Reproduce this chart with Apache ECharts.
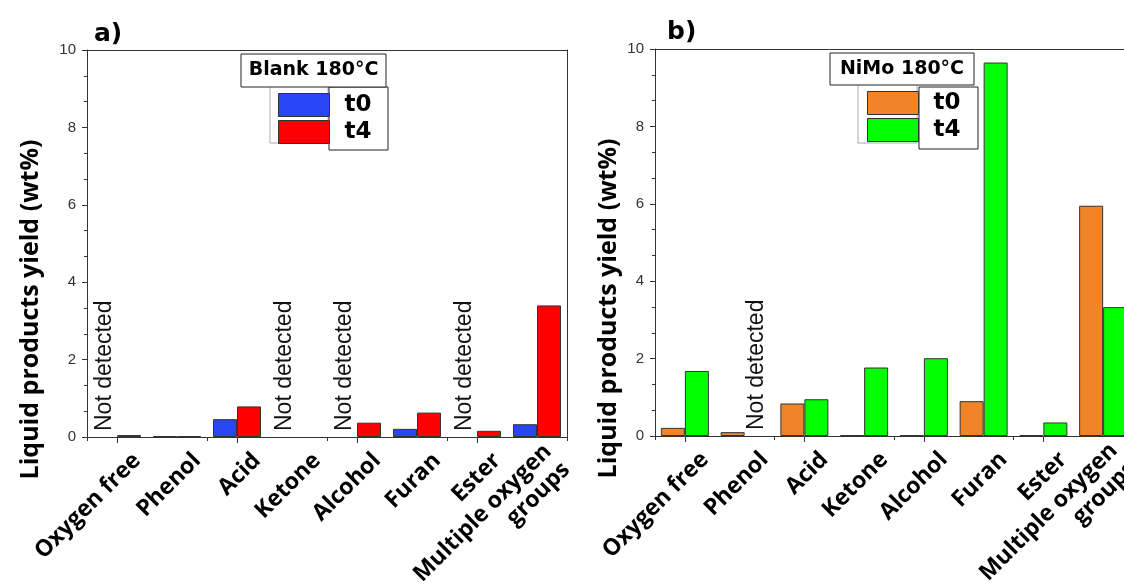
<!DOCTYPE html>
<html><head><meta charset="utf-8">
<script src="https://cdn.jsdelivr.net/npm/echarts@6/dist/echarts.min.js"></script>
<style>html,body{margin:0;padding:0;background:#fff}#c{width:1124px;height:588px}</style>
</head><body><div id="c"></div>
<script>
// ---- data ----
const categories = ['Oxygen free', 'Phenol', 'Acid', 'Ketone', 'Alcohol', 'Furan', 'Ester', 'Multiple oxygen\ngroups'];
const yMin = 0, yMax = 10, yStep = 2;
const blankT0 = [0, 0.02, 0.46, 0, 0, 0.21, 0, 0.33];
const blankT4 = [0.05, 0.02, 0.79, 0, 0.37, 0.63, 0.16, 3.40];
const blankT0NotDetected = [true, false, false, true, true, false, true, false];
const nimoT0 = [0.21, 0.10, 0.84, 0.02, 0.02, 0.90, 0.02, 5.95];
const nimoT4 = [1.68, 0, 0.95, 1.77, 2.01, 9.65, 0.35, 3.33];
const nimoT4NotDetected = [false, true, false, false, false, false, false, false];
const panelLabels = ['a)', 'b)'];
const legendTitles = ['Blank 180°C', 'NiMo 180°C'];
const timeNames = ['t0', 't4'];
const yTitle = 'Liquid products yield (wt%)';
const notDetectedText = 'Not detected';

// ---- styles ----
const colors = { blankT0: '#2747f5', blankT4: '#ff0000', nimoT0: '#ef8428', nimoT4: '#00ff00' };
const axisColor = '#333';
const ndLabel = {
  show: true, formatter: notDetectedText, position: 'insideBottom', rotate: 90,
  align: 'left', verticalAlign: 'middle', distance: 6,
  fontSize: 23, color: '#111', fontFamily: '"Liberation Sans", Arial, sans-serif'
};
function withND(values, flags) {
  return values.map((v, i) => {
    if (flags && flags[i]) return { value: v, label: ndLabel, itemStyle: { borderWidth: 0 } };
    if (v === 0) return { value: v, itemStyle: { borderWidth: 0 } };
    return v;
  });
}

const labelShift = 20;
const plotGrids = [
  { left: 87, top: 50, width: 480, height: 387, outerBoundsMode: 'none' },
  { left: 655, top: 49, width: 478, height: 387, outerBoundsMode: 'none' }
];
const labelGrids = plotGrids.map(g => Object.assign({}, g, { left: g.left + labelShift }));

function xAxesFor(g, lg) {
  return [
    { type: 'category', gridIndex: g, data: categories, position: 'bottom',
      axisLine: { show: true, lineStyle: { color: axisColor, width: 1 } },
      axisTick: { show: true, alignWithLabel: true, length: 6, lineStyle: { color: axisColor } },
      axisLabel: { show: false }, splitLine: { show: false } },
    { type: 'category', gridIndex: g, data: categories, position: 'bottom',
      axisLine: { show: false }, axisLabel: { show: false },
      axisTick: { show: true, length: 4, lineStyle: { color: axisColor } }, splitLine: { show: false } },
    { type: 'category', gridIndex: g, data: categories, position: 'top',
      axisLine: { show: true, lineStyle: { color: axisColor, width: 1 } },
      axisTick: { show: false }, axisLabel: { show: false }, splitLine: { show: false } },
    { type: 'category', gridIndex: lg, data: categories, position: 'bottom',
      axisLine: { show: false }, axisTick: { show: false }, splitLine: { show: false },
      axisLabel: { interval: 0, rotate: 45, margin: 20,
        fontSize: 23, fontWeight: 'bold', color: '#000', fontFamily: '"Open Sans", sans-serif', lineHeight: 26 } }
  ];
}
function yAxesFor(g, lg, nameGap) {
  return [
    { type: 'value', gridIndex: g, min: yMin, max: yMax, interval: yStep, position: 'left',
      name: yTitle, nameLocation: 'middle', nameGap: nameGap, nameRotate: 90,
      nameTextStyle: { fontSize: 25, fontWeight: 'bold', color: '#000', fontFamily: '"Open Sans", sans-serif', padding: [0, 132, 0, 0] },
      axisLine: { show: true, lineStyle: { color: axisColor, width: 1 } },
      axisTick: { show: true, length: 5, lineStyle: { color: axisColor } },
      minorTick: { show: true, splitNumber: 3, length: 3, lineStyle: { color: axisColor } },
      axisLabel: { fontSize: 15, color: '#333', margin: 11, fontFamily: '"Liberation Sans", Arial, sans-serif' },
      splitLine: { show: false } },
    { type: 'value', gridIndex: g, min: yMin, max: yMax, interval: yStep, position: 'right',
      axisLine: { show: true, lineStyle: { color: axisColor, width: 1 } },
      axisTick: { show: false }, axisLabel: { show: false }, splitLine: { show: false } },
    { type: 'value', gridIndex: lg, min: yMin, max: yMax, show: false }
  ];
}

const barBase = { type: 'bar', barWidth: 24, barGap: '0%',
  itemStyle: { borderColor: '#333', borderWidth: 1 } };

const legendCommon = {
  orient: 'vertical', itemWidth: 51, itemHeight: 23, itemGap: 3, icon: 'rect', selectedMode: false,
  formatter: n => n.split(' ')[1],
  itemStyle: { borderColor: '#333', borderWidth: 1 },
  textStyle: { fontSize: 23, fontWeight: 'bold', color: '#000', fontFamily: '"DejaVu Sans", sans-serif',
    lineHeight: 23, padding: [0, 0, 0, 10] }
};

function box(x, y, w, h, stroke) {
  return { type: 'rect', z: 1, shape: { x: x, y: y, width: w, height: h },
    style: { fill: '#fff', stroke: stroke, lineWidth: 1 } };
}
function boxText(x, y, text) {
  return { type: 'text', z: 2, x: x, y: y,
    style: { text: text, fontSize: 19, fontWeight: 'bold', fontFamily: '"DejaVu Sans", sans-serif',
      fill: '#000', align: 'center', verticalAlign: 'middle' } };
}

const option = {
  backgroundColor: '#fff',
  animation: false,
  title: [
    { text: panelLabels[0], left: 89, top: 17, textStyle: { fontSize: 25, fontWeight: 'bold', color: '#000', fontFamily: '"DejaVu Sans", sans-serif' } },
    { text: panelLabels[1], left: 662, top: 15, textStyle: { fontSize: 25, fontWeight: 'bold', color: '#000', fontFamily: '"DejaVu Sans", sans-serif' } }
  ],
  grid: [plotGrids[0], plotGrids[1], labelGrids[0], labelGrids[1]],
  xAxis: [...xAxesFor(0, 2), ...xAxesFor(1, 3)],
  yAxis: [...yAxesFor(0, 2, 44), ...yAxesFor(1, 3, 34)],
  legend: [
    Object.assign({}, legendCommon, { data: ['Blank t0', 'Blank t4'], left: 273, top: 88 }),
    Object.assign({}, legendCommon, { data: ['NiMo t0', 'NiMo t4'], left: 862, top: 86 })
  ],
  graphic: [
    box(270, 86, 58, 57, '#aaa'),
    box(329, 87, 59, 63, '#222'),
    box(241, 54, 145, 33, '#222'),
    boxText(313.5, 70.5, legendTitles[0]),
    box(858, 83, 59, 60, '#aaa'),
    box(919, 87, 59, 62, '#222'),
    box(830, 53, 144, 32, '#222'),
    boxText(902, 69, legendTitles[1])
  ],
  series: [
    Object.assign({}, barBase, { name: 'Blank ' + timeNames[0], xAxisIndex: 0, yAxisIndex: 0, color: colors.blankT0,
      data: withND(blankT0, blankT0NotDetected) }),
    Object.assign({}, barBase, { name: 'Blank ' + timeNames[1], xAxisIndex: 0, yAxisIndex: 0, color: colors.blankT4,
      data: withND(blankT4, null) }),
    Object.assign({}, barBase, { name: 'NiMo ' + timeNames[0], xAxisIndex: 4, yAxisIndex: 3, color: colors.nimoT0,
      data: withND(nimoT0, null) }),
    Object.assign({}, barBase, { name: 'NiMo ' + timeNames[1], xAxisIndex: 4, yAxisIndex: 3, color: colors.nimoT4,
      data: withND(nimoT4, nimoT4NotDetected) })
  ]
};
const chart = echarts.init(document.getElementById('c'), null, { renderer: 'canvas' });
chart.setOption(option);
</script></body></html>
